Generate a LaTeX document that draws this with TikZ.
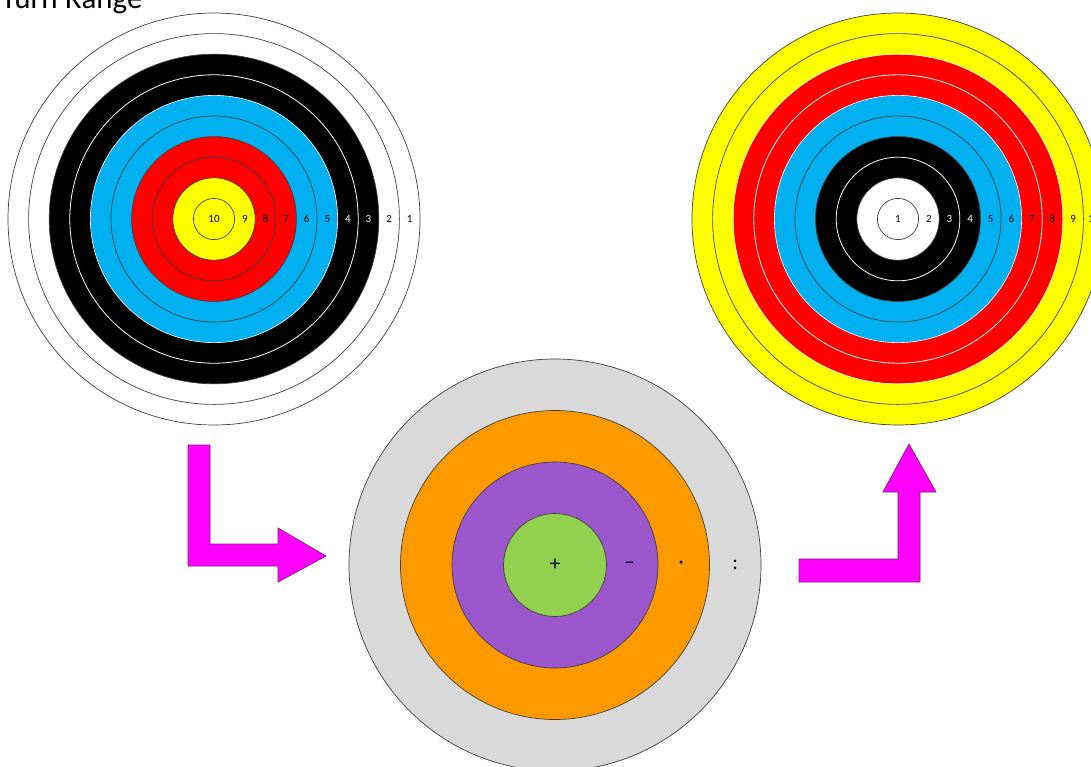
\documentclass[tikz,border=0pt]{standalone}
\usepackage{fontspec}
\setmainfont{Carlito}
\usetikzlibrary{calc}
\definecolor{tyellow}{HTML}{FFFF00}
\definecolor{tred}{HTML}{FF0000}
\definecolor{tblue}{HTML}{00B0F0}
\definecolor{tgray}{HTML}{D9D9D9}
\definecolor{torange}{HTML}{FF9900}
\definecolor{tpurple}{HTML}{9B57CB}
\definecolor{tgreen}{HTML}{92D050}
\definecolor{tmag}{HTML}{FF00FF}
\definecolor{tedge}{HTML}{404040}
\definecolor{aedge}{HTML}{7A1A7A}
\tikzset{
  ring/.style={draw=tedge, line width=0.7pt},
  wline/.style={draw=white, line width=0.8pt},
  num/.style={font=\fontsize{11}{13}\selectfont, inner sep=0pt},
  sym/.style={font=\fontsize{21}{24}\selectfont, inner sep=0pt},
  blockarrow/.style={fill=tmag, draw=aedge, line width=0.7pt, line join=miter},
}
\begin{document}
\begin{tikzpicture}[x=1pt,y=-1pt]
\useasboundingbox (0,0) rectangle (1091,766);
\clip (0,0) rectangle (1091,766);
\fill[white] (0,0) rectangle (1091,766);
\def\u{20.6}
% ---------- title
\node[anchor=base west, inner sep=0pt, font=\fontsize{31}{36}\selectfont] (title) at (1,8) {Turn Range};
% ---------- left target
\coordinate (L) at (214,219);
\fill[white, ring] (L) circle[radius=10*\u pt];
\draw[ring] (L) circle[radius=9*\u pt];
\fill[black, ring] (L) circle[radius=8*\u pt];
\draw[wline] (L) circle[radius=7*\u pt];
\fill[tblue, draw=white, line width=0.6pt] (L) circle[radius=6*\u pt];
\draw[ring] (L) circle[radius=5*\u pt];
\fill[tred, ring] (L) circle[radius=4*\u pt];
\draw[ring] (L) circle[radius=3*\u pt];
\fill[tyellow, ring] (L) circle[radius=2*\u pt];
\draw[ring] (L) circle[radius=1*\u pt];
\node[num] (l10) at (L) {10};
\foreach \k/\c in {9/black,8/black,7/black,6/black,5/black,4/white,3/white,2/black,1/black}{
  \node[num, text=\c] (l\k) at ($(L)+({(10.5-\k)*\u},0)$) {\k};
}
% ---------- right target
\coordinate (R) at (898,219);
\fill[tyellow, ring] (R) circle[radius=10*\u pt];
\draw[ring] (R) circle[radius=9*\u pt];
\fill[tred, draw=white, line width=0.6pt] (R) circle[radius=8*\u pt];
\draw[wline] (R) circle[radius=7*\u pt];
\fill[tblue, draw=white, line width=0.6pt] (R) circle[radius=6*\u pt];
\draw[ring] (R) circle[radius=5*\u pt];
\fill[black, ring] (R) circle[radius=4*\u pt];
\draw[wline] (R) circle[radius=3*\u pt];
\fill[white, ring] (R) circle[radius=2*\u pt];
\draw[ring] (R) circle[radius=1*\u pt];
\node[num] (r1) at (R) {1};
\foreach \k/\c in {2/black,3/white,4/white,5/black,6/black,7/black,8/black,9/black,10/black}{
  \node[num, text=\c] (r\k) at ($(R)+({(\k-0.5)*\u},0)$) {\k};
}
% ---------- middle target
\def\v{51.5}
\coordinate (M) at (555,565);
\fill[tgray, ring] (M) circle[radius=4*\v pt];
\fill[torange, ring] (M) circle[radius=3*\v pt];
\fill[tpurple, ring] (M) circle[radius=2*\v pt];
\fill[tgreen, ring] (M) circle[radius=1*\v pt];
\node[sym] (m1) at (M) {+};
\node[sym] (m2) at ($(M)+(1.45*\v,0)$) {–};
\node[sym] (m3) at ($(M)+(2.45*\v,0)$) {·};
\node[sym] (m4) at ($(M)+(3.5*\v,0)$) {:};
% ---------- arrows
\draw[blockarrow] (188,445) -- (210,445) -- (210,544) -- (278,544) -- (278,528)
  -- (326,556) -- (278,582) -- (278,566) -- (188,566) -- cycle;
\draw[blockarrow] (799,559) -- (898,559) -- (898,492) -- (883,492) -- (909,444)
  -- (936,492) -- (920,492) -- (920,582) -- (799,582) -- cycle;
\end{tikzpicture}
\end{document}
